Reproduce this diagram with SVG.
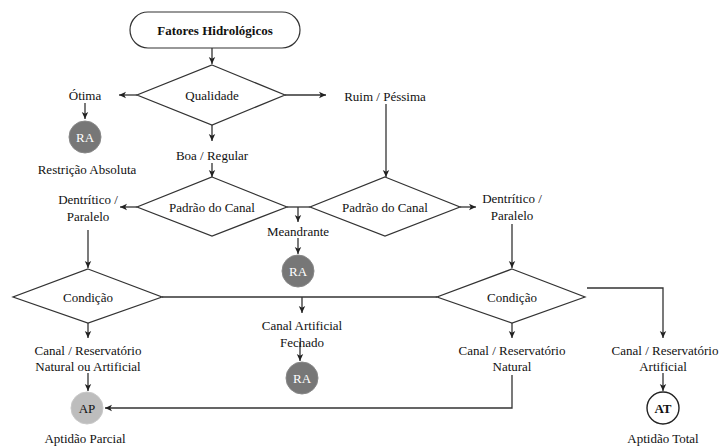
<svg xmlns="http://www.w3.org/2000/svg" width="719" height="447" viewBox="0 0 719 447">
<defs>
<marker id="ah" markerWidth="8" markerHeight="8" refX="7" refY="4" orient="auto" markerUnits="userSpaceOnUse">
<path d="M0,0.8 L7,4 L0,7.2 L1.8,4 Z" fill="#222"/>
</marker>
<style>
text{font-family:'Liberation Serif','Times New Roman',serif;font-size:13px;fill:#111;text-anchor:middle;dominant-baseline:central}
.shape{fill:#fff;stroke:#333;stroke-width:1.2}
.c{fill:none;stroke:#333;stroke-width:1.3}
.a{marker-end:url(#ah)}
.ra{fill:#777;stroke:#888;stroke-width:1}
.ra-t{fill:#fff}
.ap{fill:#bdbdbd;stroke:#c8c8c8;stroke-width:1}
.at{fill:#fff;stroke:#222;stroke-width:1.4}
.b{font-weight:bold}
</style>
</defs>
<rect width="719" height="447" fill="#fff"/>
<g id="connectors">
<path class="c a" d="M212 48 V64"/>
<path class="c a" d="M137 95 H119"/>
<path class="c a" d="M285 95 H326"/>
<path class="c a" d="M85 103 V119"/>
<path class="c a" d="M212 125 V141"/>
<path class="c a" d="M212 163 V177"/>
<path class="c a" d="M386 104 V177"/>
<path class="c a" d="M137 207 H120"/>
<path class="c a" d="M460 207 H476"/>
<path class="c" d="M287 207 H310"/>
<path class="c a" d="M298 207 V222"/>
<path class="c a" d="M298 238 V254"/>
<path class="c a" d="M88 230 V268"/>
<path class="c a" d="M512 224 V268"/>
<path class="c" d="M162 297 H437"/>
<path class="c a" d="M302 297 V313"/>
<path class="c a" d="M300 342 V361"/>
<path class="c a" d="M88 323 V338"/>
<path class="c a" d="M88 373 V391"/>
<path class="c a" d="M512 323 V338"/>
<path class="c a" d="M512 375 V408 H105"/>
<path class="c a" d="M587 288 H663 V338"/>
<path class="c a" d="M663 373 V391"/>
</g>
<g id="start">
<rect class="shape" x="130" y="12" width="170" height="36" rx="18"/>
<text class="b" x="215" y="30">Fatores Hidrológicos</text>
</g>
<g id="qualidade">
<path class="shape" d="M212 65 L285 95 L212 125 L137 95 Z"/>
<text x="212" y="95">Qualidade</text>
</g>
<g id="otima"><text x="85" y="95">Ótima</text></g>
<g id="ra1">
<circle class="ra" cx="85" cy="137" r="16"/>
<text class="ra-t" x="85" y="137">RA</text>
<text x="87" y="169">Restrição Absoluta</text>
</g>
<g id="ruim"><text x="385" y="96">Ruim / Péssima</text></g>
<g id="boa"><text x="212" y="155">Boa / Regular</text></g>
<g id="padrao1">
<path class="shape" d="M212 177 L287 207 L212 236 L137 207 Z"/>
<text x="212" y="207">Padrão do Canal</text>
</g>
<g id="padrao2">
<path class="shape" d="M385 177 L460 207 L385 236 L310 207 Z"/>
<text x="385" y="207">Padrão do Canal</text>
</g>
<g id="dend1">
<text x="88" y="199">Dentrítico /</text>
<text x="88" y="216">Paralelo</text>
</g>
<g id="dend2">
<text x="512" y="198">Dentrítico /</text>
<text x="512" y="215">Paralelo</text>
</g>
<g id="meandrante"><text x="298" y="231">Meandrante</text></g>
<g id="ra2">
<circle class="ra" cx="298" cy="271" r="16"/>
<text class="ra-t" x="298" y="271">RA</text>
</g>
<g id="cond1">
<path class="shape" d="M88 269 L162 297 L88 323 L13 297 Z"/>
<text x="88" y="297">Condição</text>
</g>
<g id="cond2">
<path class="shape" d="M512 269 L585 297 L512 323 L437 297 Z"/>
<text x="512" y="297">Condição</text>
</g>
<g id="fechado">
<text x="302" y="325">Canal Artificial</text>
<text x="302" y="342">Fechado</text>
</g>
<g id="ra3">
<circle class="ra" cx="302" cy="378" r="16"/>
<text class="ra-t" x="302" y="378">RA</text>
</g>
<g id="canal1">
<text x="88" y="350">Canal / Reservatório</text>
<text x="88" y="366">Natural ou Artificial</text>
</g>
<g id="canal2">
<text x="512" y="350">Canal / Reservatório</text>
<text x="512" y="366">Natural</text>
</g>
<g id="canal3">
<text x="665" y="350">Canal / Reservatório</text>
<text x="663" y="366">Artificial</text>
</g>
<g id="ap">
<circle class="ap" cx="87" cy="408" r="16"/>
<text x="87" y="408">AP</text>
<text x="85" y="438">Aptidão Parcial</text>
</g>
<g id="at">
<circle class="at" cx="663" cy="408" r="16"/>
<text class="b" x="663" y="408">AT</text>
<text x="663" y="438">Aptidão Total</text>
</g>
</svg>
